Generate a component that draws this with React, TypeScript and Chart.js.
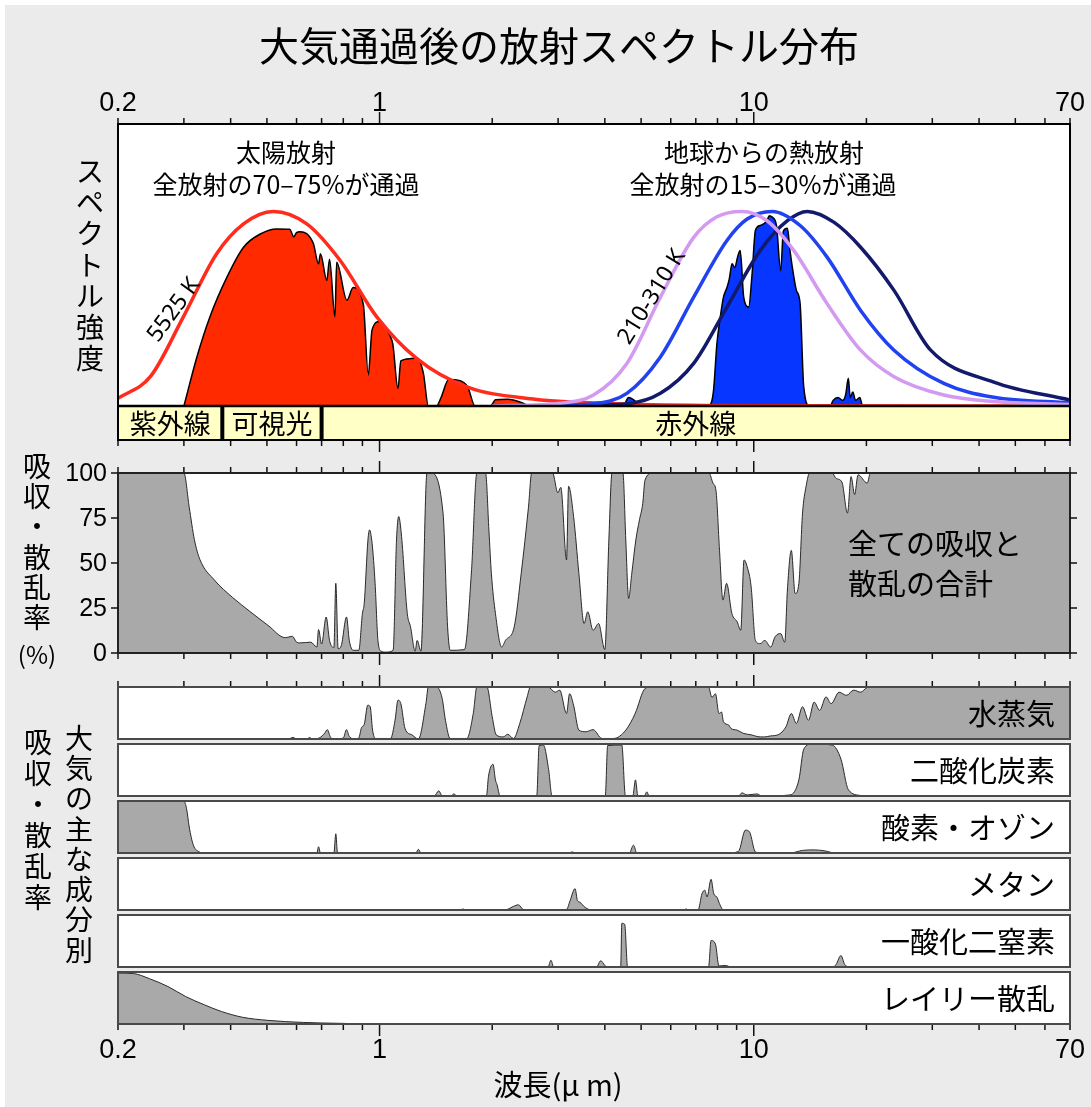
import React, { useEffect, useRef } from "react";
import { Chart, registerables } from "chart.js";
Chart.register(...registerables);

// ---------------- axis / tick data ----------------
const xTickValues = [0.2, 0.3, 0.4, 0.5, 0.6, 0.7, 0.8, 0.9, 1, 2, 3, 4, 5, 6, 7, 8, 9, 10, 20, 30, 40, 50, 60, 70];
const xMajorTicks = [1, 10];
const xLabelValues = [0.2, 1, 10, 70];
const xLabelTexts = ["0.2", "1", "10", "70"];
const yTotalTicks = [0, 25, 50, 75, 100];
const bandEdges = [0.2, 0.38, 0.7, 70];
const bandNames = ["紫外線", "可視光", "赤外線"];

// ---------------- top panel: spectral intensity (relative) ----------------
const solarBBWl = [0.2, 0.244, 0.299, 0.367, 0.433, 0.52, 0.639, 0.785, 0.983, 1.258, 1.71, 2.57, 3.5, 5, 10, 70];
const solarBBVal = [0.027, 0.104, 0.316, 0.54, 0.646, 0.69, 0.646, 0.516, 0.316, 0.168, 0.068, 0.025, 0.012, 0.005, 0.001, 0];

const solarTransWl = [0.3, 0.325, 0.352, 0.391, 0.433, 0.48, 0.531, 0.575, 0.59, 0.6, 0.613, 0.665, 0.687, 0.695, 0.723, 0.735, 0.76, 0.768, 0.818, 0.85, 0.905, 0.933, 0.955, 1.0, 1.07, 1.085, 1.12, 1.14, 1.21, 1.26, 1.31, 1.35, 1.42, 1.46, 1.53, 1.64, 1.72, 1.8, 1.98, 2.04, 2.2, 2.42, 2.5];
const solarTransVal = [0, 0.174, 0.316, 0.457, 0.563, 0.61, 0.628, 0.627, 0.6, 0.615, 0.618, 0.577, 0.504, 0.54, 0.445, 0.52, 0.316, 0.51, 0.375, 0.42, 0.36, 0.11, 0.27, 0.3, 0.245, 0.22, 0.062, 0.16, 0.168, 0.17, 0.115, 0, 0, 0.03, 0.094, 0.09, 0.068, 0, 0, 0.022, 0.024, 0.01, 0];

const bbVioletWl = [2.0, 3.04, 3.73, 4.58, 5.63, 6.91, 7.97, 9.3, 10.85, 12.8, 15.7, 19.3, 23.7, 32.2, 43.8, 70];
const bbVioletVal = [0, 0.01, 0.039, 0.151, 0.386, 0.598, 0.671, 0.69, 0.657, 0.551, 0.363, 0.198, 0.104, 0.039, 0.016, 0.005];

const bbBlueWl = [2.5, 3.73, 4.58, 5.63, 6.91, 8.48, 9.6, 11.2, 13.3, 15.7, 19.3, 23.7, 32.2, 43.8, 70];
const bbBlueVal = [0, 0.008, 0.045, 0.174, 0.386, 0.587, 0.663, 0.69, 0.64, 0.528, 0.339, 0.198, 0.08, 0.031, 0.011];

const bbNavyWl = [3.0, 4.58, 5.63, 6.91, 8.48, 10.4, 12.3, 13.9, 16.4, 19.3, 23.7, 29.7, 43.8, 70];
const bbNavyVal = [0, 0.008, 0.045, 0.151, 0.351, 0.551, 0.657, 0.69, 0.651, 0.563, 0.41, 0.198, 0.085, 0.021];

const thermalTransWl = [4.5, 4.63, 4.9, 5.0, 7.57, 7.8, 7.97, 8.14, 8.3, 8.48, 8.6, 8.75, 8.9, 9.05, 9.2, 9.4, 9.69, 9.9, 10.1, 10.4, 10.85, 11.0, 11.2, 11.5, 11.8, 12.0, 12.3, 12.5, 12.8, 13.0, 13.3, 13.6, 14.1, 16.0, 16.3, 16.8, 17.3, 17.6, 17.9, 18.1, 18.4, 18.7, 19.2, 19.5];
const thermalTransVal = [0, 0.03, 0.01, 0, 0, 0.05, 0.22, 0.316, 0.386, 0.42, 0.45, 0.504, 0.49, 0.528, 0.551, 0.386, 0.351, 0.47, 0.622, 0.64, 0.657, 0.675, 0.67, 0.64, 0.48, 0.62, 0.63, 0.55, 0.457, 0.41, 0.363, 0.068, 0, 0, 0.02, 0.03, 0.02, 0.04, 0.098, 0.03, 0.05, 0.02, 0.03, 0];

// ---------------- total absorption & scattering (%) ----------------
const totalWl = [0.2, 0.3, 0.31, 0.32, 0.331, 0.362, 0.404, 0.451, 0.503, 0.56, 0.585, 0.6, 0.613, 0.655, 0.68, 0.687, 0.7, 0.72, 0.735, 0.755, 0.764, 0.775, 0.79, 0.816, 0.83, 0.85, 0.88, 0.9, 0.91, 0.931, 0.94, 0.955, 0.973, 0.99, 1.01, 1.04, 1.087, 1.11, 1.125, 1.145, 1.186, 1.21, 1.245, 1.26, 1.29, 1.339, 1.37, 1.478, 1.52, 1.545, 1.686, 1.76, 1.82, 1.92, 1.96, 1.99, 2.04, 2.12, 2.17, 2.29, 2.39, 2.5, 2.55, 2.9, 2.995, 3.05, 3.16, 3.2, 3.3, 3.41, 3.52, 3.6, 3.72, 3.85, 3.97, 4.0, 4.1, 4.18, 4.47, 4.55, 4.63, 4.72, 4.84, 4.95, 5.05, 5.12, 5.37, 7.59, 7.78, 7.93, 8.1, 8.27, 8.46, 8.74, 9.03, 9.23, 9.42, 9.6, 9.84, 10.1, 10.4, 10.7, 11.1, 11.4, 11.8, 12.1, 12.3, 12.6, 12.9, 13.2, 13.5, 13.8, 14.1, 16.2, 16.6, 17.2, 17.8, 18.2, 18.6, 19.0, 20.1, 20.5, 70];
const totalVal = [100, 100, 81, 63, 52, 40.5, 31, 23, 15.4, 8.5, 9.3, 6, 5.6, 6, 3.3, 13, 5, 20, 7, 3, 38.7, 2.4, 4, 20, 7, 1.5, 1.5, 22, 27.5, 62.8, 68.4, 61, 38.7, 7, 1, 0.5, 1.5, 62.8, 75.8, 64.7, 22, 14.5, 1, 7, 1, 100, 100, 77.7, 14.5, 1.5, 1.9, 45, 100, 100, 68, 44, 22, 3.3, 7, 14.5, 44, 81, 100, 100, 89, 92, 51.7, 92.6, 75.8, 44, 16.4, 22.9, 12.6, 16.4, 3.3, 1.9, 62.8, 100, 100, 62.8, 30.3, 44, 62.8, 74, 83, 96, 100, 100, 94.4, 89.8, 57, 29.4, 38.7, 22, 17.3, 12.6, 51.7, 48, 36.8, 7, 5.2, 7, 3.3, 9, 10.8, 6, 35, 57, 33, 38.7, 77.7, 92.6, 100, 100, 97, 95, 77.7, 98, 88, 99, 94.4, 100, 100];

// ---------------- individual constituents (%) ----------------
const h2oWl = [0.2, 0.57, 0.587, 0.6, 0.64, 0.65, 0.66, 0.69, 0.715, 0.725, 0.74, 0.76, 0.8, 0.816, 0.83, 0.86, 0.88, 0.895, 0.91, 0.93, 0.944, 0.958, 0.975, 1.07, 1.1, 1.12, 1.14, 1.17, 1.22, 1.27, 1.33, 1.35, 1.42, 1.47, 1.5, 1.544, 1.71, 1.78, 1.82, 1.936, 2.0, 2.05, 2.14, 2.2, 2.28, 2.37, 2.48, 2.53, 2.82, 2.95, 3.03, 3.16, 3.22, 3.3, 3.41, 3.56, 3.72, 3.93, 4.22, 4.55, 4.82, 5.12, 5.3, 7.57, 7.73, 7.9, 8.07, 8.2, 8.3, 8.57, 8.7, 9.03, 9.37, 9.84, 10.4, 10.7, 11.1, 11.6, 12.2, 12.6, 13.0, 13.5, 14.0, 14.5, 15.0, 15.6, 16.1, 16.9, 17.7, 18.5, 19.3, 20.1, 21, 70];
const h2oVal = [0, 0, 3, 0, 0, 3, 0, 2, 12, 18, 3, 0, 2, 18, 5, 0, 2, 22, 28, 65, 62, 17, 1, 1, 36, 74.5, 68, 20, 8, 0, 68, 100, 100, 78, 36, 1, 1, 49, 100, 100, 43, 8, 4, 9, 1, 30, 81, 100, 100, 90, 94, 49, 87, 65, 17, 14, 18, 1, 1, 17, 49, 97, 100, 100, 80, 87, 49, 52, 33, 27, 20, 17, 11, 8, 4, 4, 6, 8, 24, 49, 30, 62, 36, 71, 55, 81, 68, 90, 84, 94, 90, 99, 100, 100];

const co2Wl = [0.2, 1.4, 1.44, 1.47, 1.55, 1.58, 1.61, 1.93, 1.955, 2.01, 2.04, 2.06, 2.1, 2.63, 2.67, 2.74, 2.83, 2.89, 4.01, 4.07, 4.44, 4.54, 4.75, 4.83, 4.9, 5.1, 5.18, 5.25, 9.1, 9.3, 9.6, 10.2, 10.5, 12.5, 13.2, 13.6, 14.3, 16.2, 17.1, 17.9, 19.3, 20, 70];
const co2Val = [0, 0, 10, 0, 0, 4, 0, 0, 38, 61, 31, 22, 0, 0, 97, 98, 51, 0, 0, 97, 98, 0, 0, 31, 0, 0, 8, 0, 0, 6, 2, 4, 0, 2, 31, 90, 100, 98, 71, 12, 1, 0, 0];

const o3Wl = [0.2, 0.3, 0.305, 0.31, 0.318, 0.33, 0.34, 0.68, 0.687, 0.695, 0.755, 0.764, 0.772, 1.25, 1.27, 1.29, 3.2, 3.27, 3.35, 4.65, 4.77, 4.87, 8.5, 9.1, 9.5, 9.75, 10.1, 10.5, 12.5, 13.5, 14.5, 15.5, 16.5, 70];
const o3Val = [100, 100, 85, 50, 15, 2, 0, 0, 12, 0, 0, 37, 0, 0, 7, 0, 0, 2, 0, 0, 15, 0, 0, 3, 44, 40, 2, 0, 0, 5, 6, 4, 0, 0];

const ch4Wl = [0.2, 1.64, 1.67, 1.7, 2.15, 2.21, 2.28, 2.35, 2.42, 2.5, 3.12, 3.17, 3.23, 3.33, 3.38, 3.43, 3.54, 3.7, 6.5, 6.6, 6.7, 7.1, 7.27, 7.4, 7.5, 7.69, 7.82, 7.97, 8.1, 8.3, 70];
const ch4Val = [0, 0, 2, 0, 0, 2, 7, 10, 1, 0, 0, 2, 18, 41, 18, 15, 5, 0, 0, 2, 0, 0, 31, 38, 25, 59, 31, 25, 12, 0, 0];

const n2oWl = [0.2, 2.82, 2.87, 2.92, 3.8, 3.9, 4.0, 4.05, 4.41, 4.44, 4.52, 4.6, 7.57, 7.69, 7.9, 8.07, 8.4, 8.7, 16.3, 16.6, 17.1, 17.5, 18.0, 70];
const n2oVal = [0, 0, 13, 0, 0, 12, 3, 0, 0, 84, 82, 0, 0, 51, 44, 2, 3, 0, 0, 5, 22, 5, 0, 0];

const rayleighWl = [0.2, 0.22, 0.243, 0.272, 0.303, 0.34, 0.378, 0.43, 0.503, 0.626, 0.78, 1.0, 70];
const rayleighVal = [98, 97, 87, 72, 53, 37, 24, 13, 7, 3, 1.3, 0, 0];

const gasNames = ["水蒸気", "二酸化炭素", "酸素・オゾン", "メタン", "一酸化二窒素", "レイリー散乱"];
const gasWl = [h2oWl, co2Wl, o3Wl, ch4Wl, n2oWl, rayleighWl];
const gasVal = [h2oVal, co2Val, o3Val, ch4Val, n2oVal, rayleighVal];

// ---------------- layout / style ----------------
const W = 1091, H = 1107;
const LEFT = 118, RIGHT = 1070;
const TOP_T = 124, TOP_B = 406, BAND_B = 440;
const TOT_T = 473, TOT_B = 653;
const GAS_T0 = 687, GAS_PITCH = 57, GAS_H = 52;
const JP = '"Noto Sans CJK JP", "Noto Sans", sans-serif';
const NUM = '"Liberation Sans", Arial, sans-serif';
const GRAY = "#a9a9a9";

const pts = (xs: number[], ys: number[]) => xs.map((x, i) => ({ x, y: ys[i] }));

const areaDs = (xs: number[], ys: number[], color: string, border: string, bw: number, order: number) => ({
  data: pts(xs, ys),
  fill: "origin",
  backgroundColor: color,
  borderColor: border,
  borderWidth: bw,
  pointRadius: 0,
  cubicInterpolationMode: "monotone",
  order,
});
const lineDs = (xs: number[], ys: number[], color: string, order: number) => ({
  data: pts(xs, ys),
  fill: false,
  borderColor: color,
  borderWidth: 3.5,
  pointRadius: 0,
  cubicInterpolationMode: "monotone",
  order,
});

function xTicks(c: any, ctx: CanvasRenderingContext2D, y: number, dir: number) {
  const sx = c.scales.x;
  ctx.strokeStyle = "#111";
  ctx.lineWidth = 1.5;
  for (const v of xTickValues) {
    const px = sx.getPixelForValue(v);
    const len = xMajorTicks.includes(v) ? 11 : 5;
    ctx.beginPath();
    ctx.moveTo(px, y);
    ctx.lineTo(px, y + dir * len);
    ctx.stroke();
  }
}
function xLabels(c: any, ctx: CanvasRenderingContext2D, y: number) {
  const sx = c.scales.x;
  ctx.fillStyle = "#000";
  ctx.font = `27px ${NUM}`;
  ctx.textAlign = "center";
  ctx.textBaseline = "middle";
  xLabelValues.forEach((v, i) => ctx.fillText(xLabelTexts[i], sx.getPixelForValue(v), y));
}
function vText(ctx: CanvasRenderingContext2D, chars: string[], x: number, y0: number, step: number, size: number) {
  ctx.fillStyle = "#000";
  ctx.font = `${size}px ${JP}`;
  ctx.textAlign = "center";
  ctx.textBaseline = "middle";
  chars.forEach((ch, i) => ctx.fillText(ch, x, y0 + i * step));
}
function rotText(ctx: CanvasRenderingContext2D, s: string, x: number, y: number, deg: number, size: number) {
  ctx.save();
  ctx.translate(x, y);
  ctx.rotate((deg * Math.PI) / 180);
  ctx.fillStyle = "#000";
  ctx.font = `${size}px "Noto Sans", sans-serif`;
  ctx.textAlign = "center";
  ctx.textBaseline = "middle";
  ctx.fillText(s, 0, 0);
  ctx.restore();
}

type Extra = (c: any, ctx: CanvasRenderingContext2D) => void;

function build(canvas: HTMLCanvasElement, top: number, bottom: number, yMax: number, datasets: any[], extra: Extra) {
  return new Chart(canvas, {
    type: "line",
    data: { datasets },
    options: {
      responsive: false,
      animation: false,
      events: [],
      layout: { padding: { left: LEFT, right: W - RIGHT, top, bottom: H - bottom } },
      scales: {
        x: { type: "logarithmic", min: 0.2, max: 70, display: false },
        y: { type: "linear", min: 0, max: yMax, display: false },
      },
      plugins: { legend: { display: false }, tooltip: { enabled: false } },
      elements: { point: { radius: 0 } },
    } as any,
    plugins: [
      {
        id: "panelDeco",
        beforeDatasetsDraw(c: any) {
          const a = c.chartArea;
          c.ctx.save();
          c.ctx.fillStyle = "#fff";
          c.ctx.fillRect(a.left, a.top, a.right - a.left, a.bottom - a.top);
          c.ctx.restore();
        },
        afterDraw(c: any) {
          c.ctx.save();
          extra(c, c.ctx);
          c.ctx.restore();
        },
      },
    ],
  } as any);
}

export default function App() {
  const refs = useRef<(HTMLCanvasElement | null)[]>([]);

  useEffect(() => {
    const charts: Chart[] = [];
    const cv = refs.current;

    // ---- top spectrum panel ----
    charts.push(
      build(
        cv[0]!,
        TOP_T,
        TOP_B,
        1,
        [
          lineDs(bbVioletWl, bbVioletVal, "#d49af2", 0),
          lineDs(bbBlueWl, bbBlueVal, "#2142ef", 0),
          lineDs(bbNavyWl, bbNavyVal, "#141a6b", 0),
          lineDs(solarBBWl, solarBBVal, "#ff2b1c", 0),
          areaDs(thermalTransWl, thermalTransVal, "#0636ff", "#000", 1.5, 1),
          areaDs(solarTransWl, solarTransVal, "#ff2a00", "#000", 1.5, 1),
        ],
        (c, ctx) => {
          const sx = c.scales.x;
          // bands
          for (let i = 0; i < bandNames.length; i++) {
            const x0 = sx.getPixelForValue(bandEdges[i]);
            const x1 = sx.getPixelForValue(bandEdges[i + 1]);
            ctx.fillStyle = "#ffffc6";
            ctx.fillRect(x0, TOP_B, x1 - x0, BAND_B - TOP_B);
            ctx.fillStyle = "#000";
            ctx.font = `27px ${JP}`;
            ctx.textAlign = "center";
            ctx.textBaseline = "middle";
            ctx.fillText(bandNames[i], (x0 + x1) / 2, (TOP_B + BAND_B) / 2 + 1);
          }
          ctx.strokeStyle = "#000";
          ctx.lineWidth = 2;
          ctx.strokeRect(LEFT, TOP_T, RIGHT - LEFT, BAND_B - TOP_T);
          ctx.lineWidth = 2.5;
          ctx.beginPath();
          ctx.moveTo(LEFT, TOP_B);
          ctx.lineTo(RIGHT, TOP_B);
          ctx.stroke();
          ctx.lineWidth = 4;
          for (const e of [bandEdges[1], bandEdges[2]]) {
            const px = sx.getPixelForValue(e);
            ctx.beginPath();
            ctx.moveTo(px, TOP_B);
            ctx.lineTo(px, BAND_B);
            ctx.stroke();
          }
          xTicks(c, ctx, TOP_T - 1, -1);
          xTicks(c, ctx, BAND_B + 1, 1);
          xLabels(c, ctx, 104);
          // title
          ctx.fillStyle = "#000";
          ctx.font = `40px ${JP}`;
          ctx.textAlign = "center";
          ctx.textBaseline = "middle";
          ctx.fillText("大気通過後の放射スペクトル分布", 559, 46);
          // annotations
          ctx.font = `25px ${JP}`;
          ctx.fillText("太陽放射", 286, 152);
          ctx.fillText("全放射の70–75%が通過", 286, 184);
          ctx.fillText("地球からの熱放射", 764, 152);
          ctx.fillText("全放射の15–30%が通過", 763, 184);
          rotText(ctx, "5525 K", 174, 310, -54, 23);
          rotText(ctx, "210-310 K", 652, 297, -58, 23);
          vText(ctx, "スペクトル強度".split(""), 90, 171, 31.3, 28);
        }
      )
    );

    // ---- total absorption panel ----
    charts.push(
      build(cv[1]!, TOT_T, TOT_B, 100, [areaDs(totalWl, totalVal, GRAY, "#2a2a2a", 1, 0)], (c, ctx) => {
        const sy = c.scales.y;
        ctx.strokeStyle = "#222";
        ctx.lineWidth = 2;
        ctx.strokeRect(LEFT, TOT_T, RIGHT - LEFT, TOT_B - TOT_T);
        xTicks(c, ctx, TOT_T - 1, -1);
        xTicks(c, ctx, TOT_B + 1, 1);
        ctx.lineWidth = 1.5;
        ctx.fillStyle = "#000";
        ctx.font = `25px ${NUM}`;
        ctx.textAlign = "right";
        ctx.textBaseline = "middle";
        for (const v of yTotalTicks) {
          const py = sy.getPixelForValue(v);
          ctx.beginPath();
          ctx.moveTo(LEFT - 7, py);
          ctx.lineTo(LEFT, py);
          ctx.moveTo(RIGHT, py);
          ctx.lineTo(RIGHT + 7, py);
          ctx.stroke();
          ctx.fillText(String(v), LEFT - 11, py + 1);
        }
        ctx.font = `29px ${JP}`;
        ctx.textAlign = "left";
        ctx.fillText("全ての吸収と", 848, 544);
        ctx.fillText("散乱の合計", 848, 584);
        vText(ctx, ["吸", "収", "・", "散", "乱", "率"], 37, 466, 30.3, 28);
        ctx.font = `24px ${JP}`;
        ctx.textAlign = "center";
        ctx.fillText("(%)", 37, 655);
      })
    );

    // ---- constituent panels ----
    for (let g = 0; g < gasNames.length; g++) {
      const top = GAS_T0 + g * GAS_PITCH;
      const bottom = top + GAS_H;
      charts.push(
        build(cv[2 + g]!, top, bottom, 100, [areaDs(gasWl[g], gasVal[g], GRAY, "#2a2a2a", 1, 0)], (c, ctx) => {
          ctx.strokeStyle = "#4a4a4a";
          ctx.lineWidth = 2;
          ctx.strokeRect(LEFT, top, RIGHT - LEFT, bottom - top);
          ctx.fillStyle = "#000";
          ctx.font = `29px ${JP}`;
          ctx.textAlign = "right";
          ctx.textBaseline = "middle";
          ctx.fillText(gasNames[g], 1055, (top + bottom) / 2 + 1);
          if (g === 0) {
            xTicks(c, ctx, top - 1, -1);
            vText(ctx, ["吸", "収", "・", "散", "乱", "率"], 38, 742, 31, 28);
            vText(ctx, "大気の主な成分別".split(""), 79, 738, 30.3, 28);
          }
          if (g === gasNames.length - 1) {
            xTicks(c, ctx, bottom + 1, 1);
            xLabels(c, ctx, 1051);
            ctx.fillStyle = "#000";
            ctx.font = `29px ${JP}`;
            ctx.textAlign = "center";
            ctx.textBaseline = "middle";
            ctx.fillText("波長(μ m)", 558, 1085);
          }
        })
      );
    }

    return () => charts.forEach((ch) => ch.destroy());
  }, []);

  return (
    <div style={{ position: "absolute", left: 0, top: 0, width: W, height: H, background: "#fff", overflow: "hidden" }}>
      <div style={{ position: "absolute", left: 5, top: 5, width: W - 5, height: H - 5, background: "#ebebeb" }} />
      {Array.from({ length: 8 }).map((_, i) => (
        <canvas
          key={i}
          ref={(el) => {
            refs.current[i] = el;
          }}
          width={W}
          height={H}
          style={{ position: "absolute", left: 0, top: 0, width: W, height: H }}
        />
      ))}
    </div>
  );
}
